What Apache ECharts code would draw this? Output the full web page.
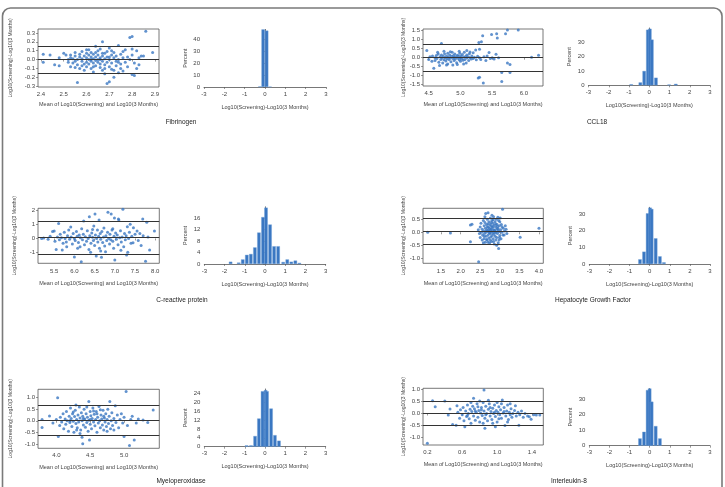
<!DOCTYPE html>
<html>
<head>
<meta charset="utf-8">
<title>Bland-Altman plots</title>
<script src="https://cdn.jsdelivr.net/npm/echarts@6/dist/echarts.min.js"></script>
<style>
html,body{margin:0;padding:0;background:#fff;}
#main{width:725px;height:487px;}
</style>
</head>
<body>
<div id="main"></div>
<script>
// scatter points [mean, difference]
var fibrinogenPoints = [[2.41,0.06],[2.41,-0.03],[2.44,0.05],[2.46,-0.06],[2.48,-0.07],[2.48,0.02],[2.5,0.07],[2.51,0.05],[2.52,0.0],[2.52,-0.03],[2.53,0.02],[2.53,-0.08],[2.53,0.05],[2.54,0.01],[2.54,-0.04],[2.55,0.04],[2.55,-0.02],[2.55,0.08],[2.56,-0.26],[2.56,0.0],[2.56,-0.06],[2.57,0.03],[2.57,-0.1],[2.57,0.06],[2.58,-0.02],[2.58,0.01],[2.58,0.09],[2.59,-0.05],[2.59,0.04],[2.59,-0.12],[2.6,0.02],[2.6,-0.03],[2.6,0.07],[2.6,-0.08],[2.61,0.0],[2.61,0.05],[2.61,-0.05],[2.61,0.11],[2.62,-0.02],[2.62,0.03],[2.62,-0.1],[2.62,0.08],[2.63,0.01],[2.63,-0.04],[2.63,0.06],[2.63,-0.14],[2.64,0.15],[2.64,-0.01],[2.64,0.03],[2.64,-0.07],[2.65,0.0],[2.65,0.1],[2.65,-0.03],[2.65,0.05],[2.66,-0.09],[2.66,0.02],[2.66,-0.05],[2.66,0.12],[2.67,0.2],[2.67,-0.02],[2.67,0.04],[2.67,-0.12],[2.68,0.01],[2.68,0.07],[2.68,-0.06],[2.68,-0.16],[2.69,-0.27],[2.69,0.03],[2.69,-0.03],[2.69,0.09],[2.7,-0.25],[2.7,0.0],[2.7,0.13],[2.7,-0.08],[2.71,0.05],[2.71,-0.04],[2.71,-0.11],[2.72,-0.2],[2.72,0.02],[2.72,-0.12],[2.72,0.08],[2.73,-0.02],[2.73,0.04],[2.73,-0.07],[2.74,0.16],[2.74,-0.15],[2.74,0.0],[2.75,0.06],[2.75,-0.05],[2.75,-0.1],[2.76,-0.13],[2.76,0.02],[2.76,0.09],[2.77,0.11],[2.77,-0.03],[2.78,0.03],[2.78,-0.08],[2.79,0.25],[2.79,0.0],[2.8,0.26],[2.8,-0.17],[2.8,0.12],[2.8,0.05],[2.81,-0.18],[2.81,-0.04],[2.82,0.1],[2.82,-0.1],[2.83,-0.06],[2.83,0.02],[2.84,0.04],[2.85,0.04],[2.86,0.32],[2.89,0.08],[2.58,-0.07],[2.62,0.0],[2.66,0.0],[2.7,0.03],[2.6,0.11],[2.64,0.08],[2.68,-0.1],[2.55,-0.09],[2.63,-0.08],[2.67,0.07],[2.71,0.1],[2.74,-0.03]];
var ccl18Points = [[4.47,0.40],[4.5,-0.1],[4.52,0.05],[4.55,-0.2],[4.56,0.1],[4.58,-0.58],[4.6,0.0],[4.6,-0.15],[4.62,0.12],[4.63,-0.05],[4.65,0.2],[4.66,-0.25],[4.67,-0.43],[4.68,0.05],[4.69,-0.1],[4.7,0.78],[4.7,0.15],[4.71,-0.02],[4.72,-0.3],[4.73,0.08],[4.74,-0.12],[4.75,0.22],[4.76,0.0],[4.77,-0.18],[4.78,0.1],[4.79,-0.06],[4.8,0.25],[4.8,-0.35],[4.81,0.04],[4.82,-0.1],[4.83,0.15],[4.84,-0.02],[4.85,-0.22],[4.86,0.08],[4.87,0.3],[4.88,-0.05],[4.89,0.12],[4.9,-0.15],[4.9,0.02],[4.91,0.2],[4.92,-0.08],[4.93,0.05],[4.94,-0.28],[4.95,0.14],[4.96,-0.03],[4.97,0.09],[4.98,-0.12],[4.99,0.24],[5.0,0.0],[5.0,-0.2],[5.01,0.1],[5.02,-0.06],[5.03,0.18],[5.04,-0.14],[5.05,0.04],[5.06,0.3],[5.07,-0.1],[5.08,0.07],[5.09,-0.3],[5.1,0.15],[5.1,-0.02],[5.12,0.05],[5.13,-0.16],[5.14,0.22],[5.15,0.0],[5.17,-0.08],[5.18,0.1],[5.2,0.28],[5.2,-0.05],[5.22,0.02],[5.24,0.43],[5.25,-0.12],[5.27,0.08],[5.28,-1.13],[5.29,0.84],[5.3,0.47],[5.3,-1.08],[5.3,0.0],[5.32,-0.1],[5.33,0.89],[5.35,1.22],[5.36,-1.41],[5.37,0.05],[5.4,-0.15],[5.42,0.1],[5.45,0.29],[5.47,-0.05],[5.49,1.29],[5.5,0.0],[5.53,-0.08],[5.56,0.19],[5.57,1.33],[5.58,1.09],[5.6,0.0],[5.65,-0.82],[5.65,-1.32],[5.71,1.33],[5.74,1.54],[5.74,-0.3],[5.78,-0.38],[5.78,-0.82],[5.91,1.54],[6.12,0.03],[6.23,0.14],[4.64,0.3],[4.74,0.35],[4.84,0.33],[4.98,0.35],[5.05,-0.35],[4.88,-0.4],[5.15,0.32],[4.95,-0.38],[4.78,-0.4],[5.1,0.4]];
var crpPoints = [[5.19,0.0],[5.24,0.03],[5.35,-0.05],[5.4,0.15],[5.46,0.5],[5.5,0.53],[5.52,-0.2],[5.55,-0.79],[5.58,0.1],[5.61,1.08],[5.63,-0.1],[5.65,0.3],[5.68,0.05],[5.7,-0.83],[5.72,-0.35],[5.75,0.45],[5.77,0.0],[5.8,-0.25],[5.81,-0.59],[5.83,0.2],[5.86,0.6],[5.88,-0.05],[5.91,0.82],[5.92,0.1],[5.95,-0.4],[5.97,0.35],[6.0,-1.34],[6.0,0.0],[6.02,-0.15],[6.05,0.5],[6.07,0.15],[6.1,-0.3],[6.12,0.25],[6.14,-0.6],[6.15,0.05],[6.17,-1.68],[6.18,0.7],[6.2,-0.1],[6.22,0.3],[6.23,1.26],[6.25,-0.45],[6.27,0.12],[6.3,-0.2],[6.32,0.55],[6.34,0.0],[6.36,-0.8],[6.37,1.57],[6.38,0.2],[6.4,-1.0],[6.41,-0.35],[6.43,0.4],[6.45,0.08],[6.47,-0.15],[6.48,0.9],[6.5,-0.5],[6.51,1.76],[6.52,0.25],[6.54,-1.26],[6.55,0.0],[6.57,0.6],[6.58,-0.25],[6.6,0.15],[6.61,1.33],[6.62,-0.7],[6.64,0.35],[6.65,-0.05],[6.67,-1.36],[6.68,0.5],[6.7,-0.3],[6.72,0.1],[6.73,0.75],[6.75,-0.55],[6.77,-0.95],[6.78,0.2],[6.8,-0.15],[6.82,0.45],[6.83,1.88],[6.85,0.0],[6.87,-0.4],[6.88,0.3],[6.9,-0.1],[6.91,1.76],[6.93,0.6],[6.95,-0.2],[6.97,-0.71],[6.98,0.15],[6.99,1.47],[7.0,-1.55],[7.02,0.4],[7.04,-0.05],[7.06,0.25],[7.08,-0.45],[7.09,1.4],[7.1,1.33],[7.12,0.05],[7.14,0.55],[7.16,-0.25],[7.18,0.1],[7.2,2.11],[7.22,-0.6],[7.24,0.35],[7.26,-0.1],[7.28,0.2],[7.29,-1.19],[7.31,0.85],[7.32,-1.0],[7.34,0.0],[7.36,0.45],[7.38,1.03],[7.4,-0.35],[7.42,0.15],[7.45,-0.31],[7.46,0.77],[7.5,0.3],[7.55,0.53],[7.58,-0.15],[7.62,0.36],[7.65,-0.5],[7.69,1.4],[7.7,0.2],[7.76,-1.65],[7.79,1.16],[7.82,0.1],[7.86,-0.83],[7.98,0.53],[6.08,-0.7],[6.45,0.65],[6.65,-0.9],[6.95,0.7],[7.15,-0.85]];
var hgfPoints = [[1.16,0.0],[1.74,-0.03],[2.25,0.28],[2.29,0.31],[2.25,-0.36],[2.46,-1.13],[2.45,0.1],[2.48,-0.05],[2.5,0.2],[2.5,-0.2],[2.52,0.35],[2.53,0.0],[2.55,-0.3],[2.55,0.12],[2.56,-0.1],[2.58,0.45],[2.58,0.05],[2.6,-0.25],[2.6,0.25],[2.61,-0.05],[2.62,0.6],[2.63,0.15],[2.63,-0.38],[2.64,0.72],[2.65,0.0],[2.65,-0.15],[2.66,0.3],[2.67,0.1],[2.68,-0.3],[2.68,0.5],[2.69,0.05],[2.7,0.75],[2.7,-0.1],[2.71,0.2],[2.72,-0.22],[2.72,0.4],[2.73,0.0],[2.74,-0.4],[2.74,0.15],[2.75,0.3],[2.75,-0.05],[2.76,0.55],[2.77,0.08],[2.77,-0.18],[2.78,0.25],[2.79,-0.35],[2.79,0.02],[2.8,0.45],[2.8,-0.12],[2.81,0.18],[2.82,-0.03],[2.82,0.35],[2.83,-0.25],[2.84,0.1],[2.84,0.6],[2.85,-0.08],[2.86,0.28],[2.86,-0.45],[2.87,0.05],[2.88,0.4],[2.88,-0.15],[2.89,0.2],[2.9,-0.3],[2.9,0.0],[2.91,0.5],[2.92,0.12],[2.92,-0.2],[2.93,0.3],[2.94,-0.05],[2.95,0.15],[2.96,-0.4],[2.97,-0.62],[2.97,0.45],[2.98,0.02],[2.99,0.25],[3.0,-0.12],[3.01,0.55],[3.02,0.1],[3.03,-0.25],[3.04,0.3],[3.05,0.0],[3.06,0.2],[3.07,0.88],[3.08,-0.1],[3.09,0.15],[3.11,-0.1],[3.12,0.05],[3.14,0.25],[3.16,0.12],[3.18,-0.05],[3.52,-0.19],[4.0,0.15],[2.7,0.32],[2.74,-0.02],[2.78,0.12],[2.82,0.22],[2.86,0.08],[2.9,0.32],[2.94,0.22],[2.66,-0.28],[2.76,-0.3],[2.84,-0.35],[2.92,-0.5],[2.98,-0.3],[2.62,0.38],[2.8,0.65],[2.95,0.58],[3.0,0.4],[2.6,-0.15],[2.72,0.1],[2.88,0.0],[2.96,0.1],[2.68,0.2],[2.78,0.38],[2.83,0.48],[2.99,-0.2],[2.58,-0.4],[2.64,0.05],[2.7,-0.38]];
var mpoPoints = [[3.79,0.06],[3.79,-0.29],[3.9,0.21],[3.95,-0.1],[4.0,0.05],[4.02,1.0],[4.03,-0.68],[4.05,-0.2],[4.06,0.15],[4.08,-0.05],[4.1,0.3],[4.11,-0.35],[4.13,0.08],[4.14,-0.15],[4.15,0.4],[4.16,0.0],[4.18,-0.45],[4.19,0.2],[4.2,-0.08],[4.21,0.55],[4.22,0.1],[4.23,-0.25],[4.24,0.3],[4.25,-0.02],[4.26,-0.5],[4.27,0.18],[4.28,0.45],[4.29,0.68],[4.29,-0.12],[4.3,0.05],[4.31,-0.3],[4.32,0.25],[4.33,-0.05],[4.34,0.6],[4.35,0.12],[4.36,-0.4],[4.37,0.35],[4.38,-0.71],[4.38,0.0],[4.39,-0.99],[4.39,0.2],[4.4,-0.18],[4.41,0.5],[4.42,0.08],[4.43,-0.28],[4.44,0.3],[4.45,-0.08],[4.46,0.15],[4.47,-0.45],[4.48,0.83],[4.48,0.02],[4.49,-0.83],[4.5,0.4],[4.5,-0.15],[4.51,0.22],[4.52,-0.35],[4.53,0.1],[4.54,0.55],[4.55,-0.05],[4.56,0.28],[4.57,-0.22],[4.58,0.05],[4.59,0.4],[4.6,-0.5],[4.61,0.15],[4.62,-0.1],[4.63,0.62],[4.64,0.0],[4.65,-0.3],[4.66,0.25],[4.67,0.08],[4.68,-0.18],[4.69,0.45],[4.7,-0.4],[4.71,0.12],[4.72,-0.05],[4.73,0.3],[4.74,-0.25],[4.75,0.05],[4.76,0.5],[4.77,-0.12],[4.78,0.2],[4.79,0.83],[4.8,-0.35],[4.81,0.0],[4.82,0.35],[4.83,-0.2],[4.85,0.1],[4.87,0.65],[4.88,-0.08],[4.9,0.25],[4.92,-0.3],[4.94,0.05],[4.96,0.3],[4.98,-0.1],[5.0,-0.68],[5.0,0.15],[5.03,1.26],[5.05,-0.2],[5.08,-1.07],[5.1,0.05],[5.12,0.2],[5.15,-0.83],[5.18,-0.1],[5.21,0.08],[5.28,0.03],[5.35,-0.08],[5.43,0.47],[4.25,0.38],[4.35,-0.55],[4.45,0.6],[4.55,0.42],[4.65,0.48],[4.75,-0.45],[4.6,0.3],[4.4,0.1],[4.5,0.05],[4.7,0.2],[4.3,-0.4],[4.2,0.0],[4.85,-0.4]];
var il8Points = [[0.2,-1.23],[0.26,0.53],[0.29,0.28],[0.4,0.52],[0.44,-0.06],[0.46,0.19],[0.49,-0.45],[0.53,-0.48],[0.54,0.32],[0.55,0.05],[0.57,-0.2],[0.58,0.15],[0.6,-0.05],[0.61,0.25],[0.62,-0.3],[0.63,-0.55],[0.64,0.1],[0.65,-0.12],[0.66,0.35],[0.67,0.0],[0.68,-0.22],[0.69,0.18],[0.7,-0.4],[0.71,0.08],[0.72,0.3],[0.73,0.63],[0.73,-0.1],[0.74,0.2],[0.75,-0.28],[0.76,0.05],[0.77,0.4],[0.78,-0.15],[0.79,0.12],[0.8,0.52],[0.8,-0.35],[0.81,0.02],[0.82,0.25],[0.83,-0.08],[0.84,0.45],[0.85,0.97],[0.85,0.1],[0.86,-0.61],[0.86,-0.2],[0.87,0.3],[0.88,0.0],[0.89,-0.3],[0.9,0.18],[0.91,0.4],[0.92,-0.1],[0.93,0.08],[0.94,-0.25],[0.95,0.22],[0.96,0.0],[0.97,0.35],[0.98,-0.55],[0.98,-0.12],[0.99,0.12],[1.0,-0.35],[1.01,0.05],[1.02,0.28],[1.03,-0.05],[1.04,0.15],[1.05,-0.2],[1.06,0.56],[1.07,0.02],[1.08,0.25],[1.09,-0.5],[1.1,-0.1],[1.11,0.1],[1.12,0.35],[1.13,-0.25],[1.14,0.05],[1.15,-0.05],[1.16,0.2],[1.17,-0.15],[1.18,0.0],[1.2,0.12],[1.21,0.32],[1.22,-0.1],[1.24,0.05],[1.25,-0.48],[1.26,-0.05],[1.28,0.1],[1.3,-0.15],[1.32,0.0],[1.35,-0.1],[1.37,-0.13],[1.39,-0.24],[1.42,-0.05],[1.45,-0.06],[1.49,-0.06],[0.7,0.45],[0.78,0.28],[0.84,-0.4],[0.9,0.55],[0.95,-0.4],[1.0,0.45],[1.05,0.4],[1.15,0.4],[0.66,-0.08],[0.82,0.15],[0.92,0.25],[1.02,-0.22],[1.12,-0.35],[0.75,0.1],[0.87,-0.05],[0.97,0.05],[1.08,0.08]];

// mean difference and limits of agreement
var fibrinogenLimits = [0.155, 0, -0.155];
var ccl18Limits = [0.76, 0.01, -0.74];
var crpLimits = [1.26, 0.06, -1.11];
var hgfLimits = [0.52, 0.03, -0.46];
var mpoLimits = [0.66, 0.01, -0.61];
var il8Limits = [0.5, 0.0, -0.49];

// histograms [bin centre, percent]
var fibrinogenHist = [[-0.25,0.5],[-0.09,48],[0.08,47],[0.25,0.3]];
var ccl18Hist = [[-0.89,0.7],[-0.44,2],[-0.25,10],[-0.07,38.8],[0.03,39.5],[0.13,31.9],[0.33,5.3],[0.98,0.5],[1.31,1]];
var crpHist = [[-1.7,0.8],[-1.3,0.5],[-1.1,1.6],[-0.9,3.2],[-0.7,3.5],[-0.5,5.8],[-0.3,11],[-0.1,16.4],[0.05,19.7],[0.25,13.8],[0.45,6.2],[0.65,6.2],[0.9,0.7],[1.1,1.6],[1.3,0.8],[1.5,1.2],[1.7,0.4]];
var hgfHist = [[-0.48,2.8],[-0.28,7.4],[-0.1,30.4],[0.02,33.8],[0.1,33],[0.3,15.4],[0.51,4.6],[0.71,1]];
var mpoHist = [[-0.91,0.6],[-0.69,0.6],[-0.49,4.8],[-0.3,12.7],[-0.12,25],[0.03,25.5],[0.1,25],[0.3,17.2],[0.49,5.2],[0.69,2.7]];
var il8Hist = [[-0.48,4.7],[-0.28,9],[-0.1,36],[0.0,37],[0.1,28.5],[0.3,12.7],[0.51,4.7]];

// tick labels
var fibrinogenXTicks = [2.4,2.5,2.6,2.7,2.8,2.9];
var fibrinogenYTicks = [-0.3,-0.2,-0.1,0,0.1,0.2,0.3];
var ccl18XTicks = [4.5,5.0,5.5,6.0];
var ccl18YTicks = [-1.5,-1.0,-0.5,0,0.5,1.0,1.5];
var crpXTicks = [5.5,6.0,6.5,7.0,7.5,8.0];
var crpYTicks = [-1,0,1,2];
var hgfXTicks = [1.5,2.0,2.5,3.0,3.5,4.0];
var hgfYTicks = [-1.0,-0.5,0,0.5];
var mpoXTicks = [4.0,4.5,5.0];
var mpoYTicks = [-1.0,-0.5,0,0.5,1.0];
var il8XTicks = [0.2,0.6,1.0,1.4];
var il8YTicks = [-1.0,-0.5,0,0.5,1.0];
var histXTicks = [-3,-2,-1,0,1,2,3];
var fibrinogenHistTicks = [0,10,20,30,40];
var ccl18HistTicks = [0,10,20,30];
var crpHistTicks = [0,4,8,12,16];
var hgfHistTicks = [0,10,20,30];
var mpoHistTicks = [0,4,8,12,16,20,24];
var il8HistTicks = [0,10,20,30];

var panels = [
	{title:'Fibrinogen', tx:181, ty:122, align:'center', pts:fibrinogenPoints, lim:fibrinogenLimits, hist:fibrinogenHist,
	 s:{left:38, top:29, width:121, height:58}, xr:[2.387,2.918], yr:[-0.31,0.345], xt:fibrinogenXTicks, yt:fibrinogenYTicks, xd:1, yd:1, xGap:14, xMargin:4, yGap:25,
	 h:{left:204, top:29.4, width:122, height:57.6}, hMax:48, ht:fibrinogenHistTicks},
	{title:'CCL18', tx:597, ty:122, align:'center', pts:ccl18Points, lim:ccl18Limits, hist:ccl18Hist,
	 s:{left:423, top:29, width:120, height:57}, xr:[4.41,6.30], yr:[-1.57,1.59], xt:ccl18XTicks, yt:ccl18YTicks, xd:1, yd:1, xGap:15, xMargin:4, yGap:13,
	 h:{left:588.5, top:28, width:121.5, height:57.3}, hMax:40, ht:ccl18HistTicks},
	{title:'C-reactive protein', tx:182, ty:300, align:'center', pts:crpPoints, lim:crpLimits, hist:crpHist,
	 s:{left:38, top:208.3, width:121.3, height:55}, xr:[5.1,8.1], yr:[-1.79,2.17], xt:crpXTicks, yt:crpYTicks, xd:1, yd:0, xGap:17, xMargin:5, yGap:21,
	 h:{left:204.3, top:206.8, width:121.4, height:57.2}, hMax:20, ht:crpHistTicks},
	{title:'Hepatocyte Growth Factor', tx:555, ty:300, align:'left', pts:hgfPoints, lim:hgfLimits, hist:hgfHist,
	 s:{left:423, top:208.3, width:120.3, height:55}, xr:[1.04,4.11], yr:[-1.19,0.92], xt:hgfXTicks, yt:hgfYTicks, xd:1, yd:1, xGap:17, xMargin:5, yGap:13,
	 h:{left:589.3, top:207.3, width:120.7, height:56.7}, hMax:34, ht:hgfHistTicks},
	{title:'Myeloperoxidase', tx:181, ty:481, align:'center', pts:mpoPoints, lim:mpoLimits, hist:mpoHist,
	 s:{left:38, top:389.3, width:121.3, height:59}, xr:[3.73,5.52], yr:[-1.19,1.36], xt:mpoXTicks, yt:mpoYTicks, xd:1, yd:1, xGap:16, xMargin:4, yGap:25,
	 h:{left:204.3, top:389, width:121.4, height:57.7}, hMax:26, ht:mpoHistTicks},
	{title:'Interleukin-8', tx:551, ty:481, align:'left', pts:il8Points, lim:il8Limits, hist:il8Hist,
	 s:{left:423, top:388.3, width:120.3, height:56.7}, xr:[0.15,1.53], yr:[-1.3,1.04], xt:il8XTicks, yt:il8YTicks, xd:1, yd:1, xGap:16, xMargin:4, yGap:13,
	 h:{left:589.3, top:388.5, width:120.7, height:57.2}, hMax:37, ht:il8HistTicks}
];

var FONT = 'Liberation Sans, Arial, sans-serif';
var TXT = '#444';
var BLUE = '#3a77c2';

var grid = [], xAxis = [], yAxis = [], series = [], graphic = [];

graphic.push({type:'rect', shape:{x:2.5, y:8, width:719.5, height:520, r:8}, style:{fill:'none', stroke:'#7a7a7a', lineWidth:1.6}, silent:true});

function fmt(d){ return function(v){ return Number(v).toFixed(d); }; }

panels.forEach(function(p){
	// scatter (Bland-Altman) panel
	var g = grid.length;
	grid.push({left:p.s.left, top:p.s.top, width:p.s.width, height:p.s.height, show:true, borderColor:'#555', borderWidth:0.8});
	xAxis.push({gridIndex:g, type:'value', min:p.xr[0], max:p.xr[1],
		axisLine:{show:false}, splitLine:{show:false},
		axisTick:{show:true, customValues:p.xt, length:2, lineStyle:{color:'#555', width:0.6}},
		axisLabel:{customValues:p.xt, formatter:fmt(p.xd), fontSize:6, color:TXT, fontFamily:FONT, margin:p.xMargin},
		name:'Mean of Log10(Screening) and Log10(3 Months)', nameLocation:'middle', nameGap:p.xGap,
		nameTextStyle:{fontSize:5.5, color:TXT, fontFamily:FONT}});
	yAxis.push({gridIndex:g, type:'value', min:p.yr[0], max:p.yr[1],
		axisLine:{show:false}, splitLine:{show:false},
		axisTick:{show:true, customValues:p.yt, length:2, lineStyle:{color:'#555', width:0.6}},
		axisLabel:{customValues:p.yt, formatter:fmt(p.yd), fontSize:6, color:TXT, fontFamily:FONT, margin:3},
		name:'Log10(Screening)-Log10(3 Months)', nameLocation:'middle', nameGap:p.yGap,
		nameTextStyle:{fontSize:5, color:TXT, fontFamily:FONT}});
	series.push({type:'scatter', xAxisIndex:g, yAxisIndex:g, data:p.pts, symbolSize:3,
		itemStyle:{color:BLUE}, silent:true,
		markLine:{silent:true, symbol:['none','none'], label:{show:false},
			lineStyle:{color:'#333', width:1, type:'solid'},
			data:p.lim.map(function(v){ return {yAxis:v}; })}});

	// histogram panel
	var h = grid.length;
	grid.push({left:p.h.left, top:p.h.top, width:p.h.width, height:p.h.height});
	xAxis.push({gridIndex:h, type:'value', min:-3, max:3,
		axisLine:{show:true, lineStyle:{color:'#555', width:0.8}}, splitLine:{show:false},
		axisTick:{show:true, customValues:histXTicks, length:2, lineStyle:{color:'#555', width:0.6}},
		axisLabel:{customValues:histXTicks, fontSize:6, color:TXT, fontFamily:FONT, margin:4},
		name:'Log10(Screening)-Log10(3 Months)', nameLocation:'middle', nameGap:17,
		nameTextStyle:{fontSize:5.5, color:TXT, fontFamily:FONT}});
	yAxis.push({gridIndex:h, type:'value', min:0, max:p.hMax,
		axisLine:{show:true, lineStyle:{color:'#555', width:0.8}}, splitLine:{show:false},
		axisTick:{show:true, customValues:p.ht, length:2, lineStyle:{color:'#555', width:0.6}},
		axisLabel:{customValues:p.ht, fontSize:6, color:TXT, fontFamily:FONT, margin:4},
		name:'Percent', nameLocation:'middle', nameGap:16,
		nameTextStyle:{fontSize:5.5, color:TXT, fontFamily:FONT}});
	series.push({type:'bar', xAxisIndex:h, yAxisIndex:h, data:p.hist, barWidth:3.4,
		itemStyle:{color:BLUE, borderColor:'#6f9fd6', borderWidth:0.4}, silent:true});

	graphic.push({type:'text', x:p.tx, y:p.ty, silent:true,
		style:{text:p.title, fontSize:6.5, fill:'#222', fontFamily:FONT, align:p.align, verticalAlign:'middle'}});
});

var myChart = echarts.init(document.getElementById('main'), null, {renderer:'canvas'});
myChart.setOption({
	animation:false,
	backgroundColor:'#fff',
	grid:grid,
	xAxis:xAxis,
	yAxis:yAxis,
	series:series,
	graphic:graphic
});
</script>
</body>
</html>
